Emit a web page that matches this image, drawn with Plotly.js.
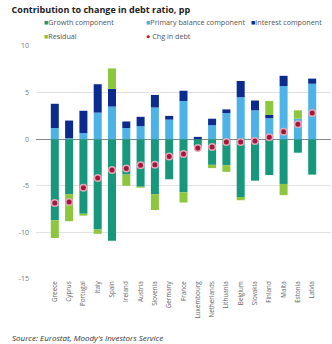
<!DOCTYPE html>
<html>
<head>
<meta charset="utf-8">
<script src="https://cdn.plot.ly/plotly-3.0.1.min.js"></script>
<style>html,body{margin:0;padding:0;background:#fff;}#chart{width:332px;height:344px;}</style>
</head>
<body>
<div id="chart"></div>
<script>
var countries = ["Greece","Cyprus","Portugal","Italy","Spain","Ireland","Austria","Slovenia","Germany","France","Luxembourg","Netherlands","Lithuania","Belgium","Slovakia","Finland","Malta","Estonia","Latvia"];
var growth   = [-8.7,-5.9,-8.0,-9.7,-10.9,-3.8,-5.1,-5.9,-4.3,-5.7,-0.8,-2.75,-2.8,-6.2,-4.45,-3.85,-4.8,-1.45,-3.8];
var primary  = [1.2,0.1,0.65,2.85,3.5,1.2,1.4,3.4,2.1,4.1,0,1.5,2.8,4.5,3.1,2.25,5.7,2.2,5.95];
var interest = [2.6,1.9,2.4,3.05,1.9,0.7,1.0,1.35,0.4,1.1,0.25,0.7,0.4,1.75,1.05,0.35,1.1,0.0,0.55];
var residual = [-1.9,-2.9,-0.2,-0.45,2.2,-1.2,-0.1,-1.7,0,-1.1,0,-0.35,-0.7,-0.35,0,1.5,-1.2,0.9,0];
var chgDebt  = [-6.85,-6.75,-5.2,-4.15,-3.3,-3.15,-2.8,-2.75,-1.85,-1.6,-0.95,-0.85,-0.3,-0.3,-0.2,0.2,0.8,1.6,2.8];
var yTicks = [-15,-10,-5,0,5,10];

var cGrowth = "#17977b", cPrimary = "#4db3e6", cInterest = "#0b2b8f", cResidual = "#8dc63f", cChg = "#a3173c";

var traces = [
  {type:"bar", name:"Growth component", x:countries, y:growth, marker:{color:cGrowth}, showlegend:false},
  {type:"bar", name:"Primary balance component", x:countries, y:primary, marker:{color:cPrimary}, showlegend:false},
  {type:"bar", name:"Interest component", x:countries, y:interest, marker:{color:cInterest}, showlegend:false},
  {type:"bar", name:"Residual", x:countries, y:residual, marker:{color:cResidual}, showlegend:false},
  {type:"scatter", mode:"markers", name:"Chg in debt", x:countries, y:chgDebt,
   marker:{color:cChg, size:6.5, line:{color:"#e3a9b8", width:1.5}}, showlegend:false}
];

var plotW = 295, plotTop = 46, plotH = 233.3;
function px(x){ return (x - 36) / plotW; }
function py(y){ return (plotTop + plotH - y) / plotH; }
var legFont = {family:"Open Sans, Arial, sans-serif", size:7.2, color:"#555"};
function leg(x, y, color, sym, text){
  return {xref:"paper", yref:"paper", x:px(x), y:py(y), xanchor:"left", yanchor:"middle", showarrow:false,
          text:"<span style='color:"+color+"'>"+sym+"</span>"+text, font:legFont};
}

var layout = {
  width:332, height:344,
  margin:{l:36, r:1, t:46, b:65},
  paper_bgcolor:"#fff", plot_bgcolor:"#fff",
  barmode:"relative", bargap:0.44,
  showlegend:false,
  title:{text:"<b>Contribution to change in debt ratio, pp</b>", x:0.035, xanchor:"left", y:0.97, yanchor:"middle",
         font:{family:"Open Sans, Arial, sans-serif", size:9, color:"#222"}},
  xaxis:{type:"category", tickangle:-90, tickfont:{family:"Open Sans, Arial, sans-serif", size:6.3, color:"#666"},
         showgrid:false, zeroline:false, showline:false, ticks:"", automargin:false},
  yaxis:{range:[-15,10], tickvals:yTicks, ticktext:yTicks.map(String),
         tickfont:{family:"Open Sans, Arial, sans-serif", size:7, color:"#777"},
         gridcolor:"#e2e2e2", gridwidth:1, zeroline:true, zerolinecolor:"#888", zerolinewidth:1,
         showline:false, ticks:"", ticklabelstandoff:6, automargin:false},
  annotations:[
    leg(42, 22, cGrowth, "■", "Growth component"),
    leg(144, 22, cPrimary, "■", "Primary balance component"),
    leg(249, 22, cInterest, "■", "Interest component"),
    leg(42, 35.5, cResidual, "■", "Residual"),
    leg(144, 35.5, cChg, "●", " Chg in debt"),
    {xref:"paper", yref:"paper", x:px(10), y:py(338), xanchor:"left", yanchor:"middle", showarrow:false,
     text:"<i>Source: Eurostat, Moody's Investors Service</i>",
     font:{family:"Open Sans, Arial, sans-serif", size:8, color:"#333"}}
  ]
};

Plotly.newPlot("chart", traces, layout, {displayModeBar:false, staticPlot:true});
</script>
</body>
</html>
